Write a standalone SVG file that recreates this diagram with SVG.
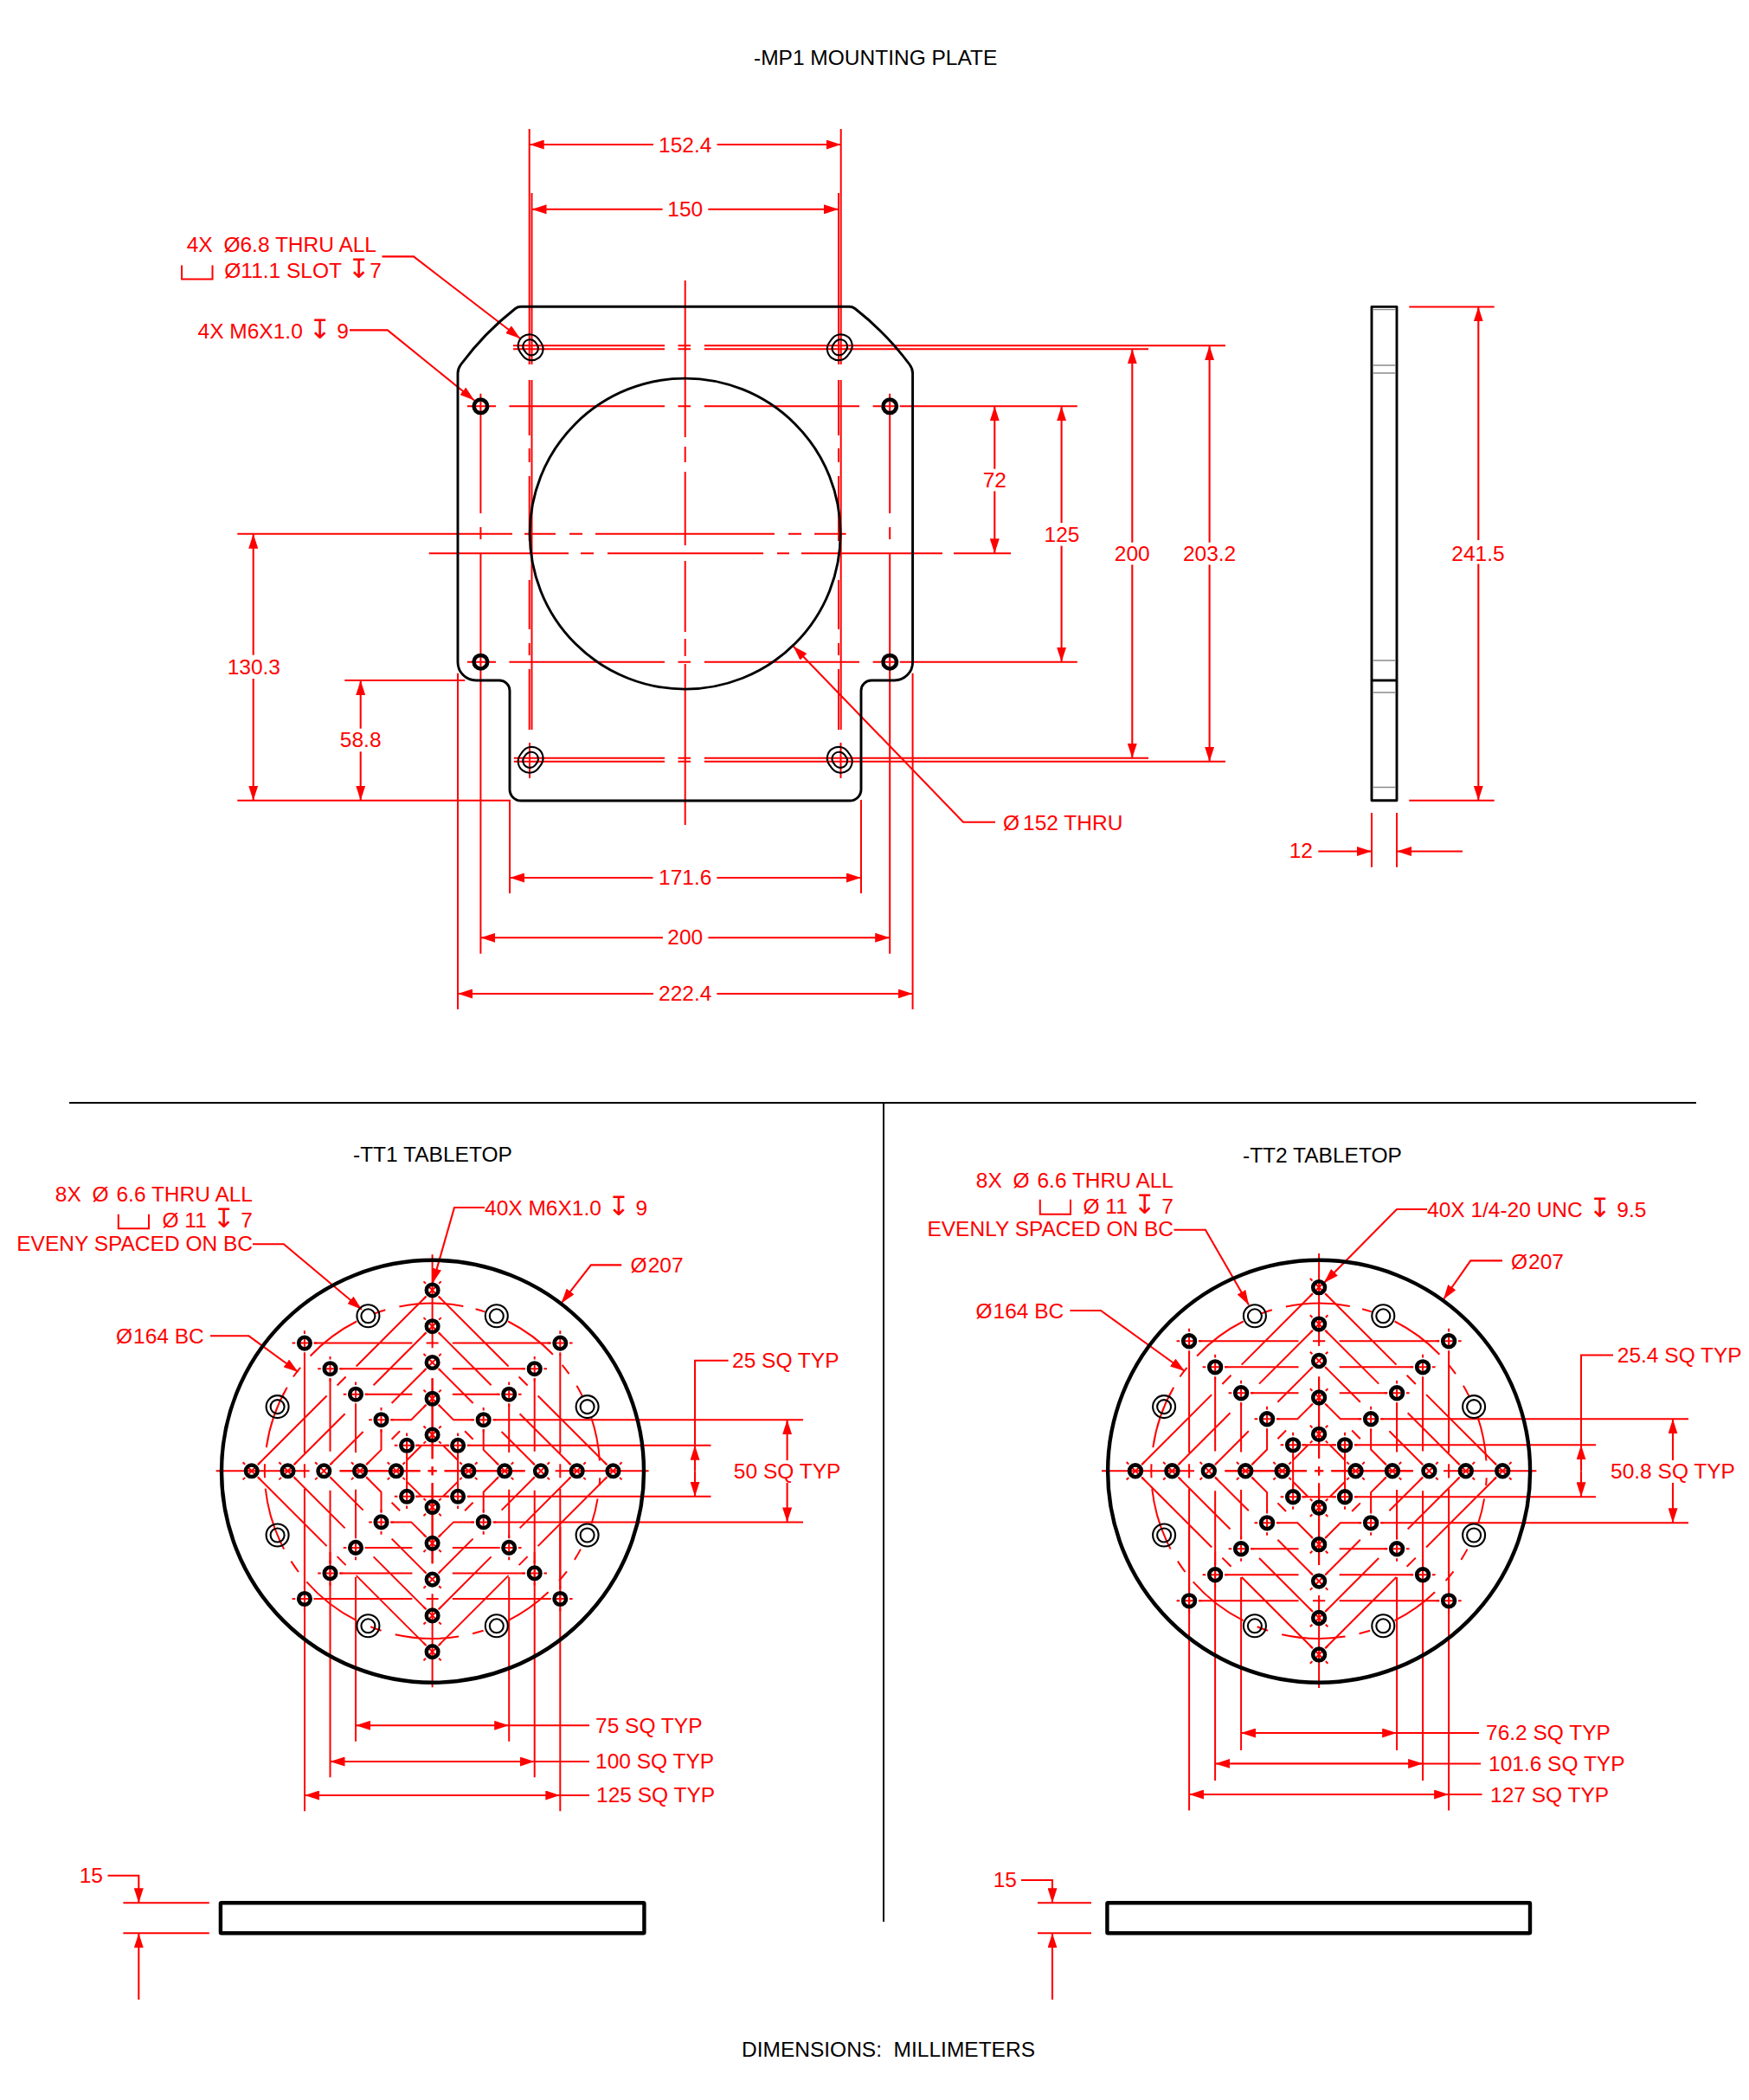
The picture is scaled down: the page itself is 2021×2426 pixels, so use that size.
<svg xmlns="http://www.w3.org/2000/svg" width="2021" height="2426" viewBox="0 0 2021 2426">
<style>
text{font-family:"Liberation Sans","DejaVu Sans",sans-serif;font-size:24.5px;fill:#f00}
text.k{fill:#000}
tspan.d{font-size:31px}
.m{text-anchor:middle}
.e{text-anchor:end}
path,line,circle,rect{fill:none}
.r{stroke:#f00;stroke-width:2}
.a{stroke:#f00;stroke-width:2.1;marker-end:url(#arrow)}
.b{stroke:#000;stroke-width:2.9;stroke-linejoin:round}
.t{stroke:#000;stroke-width:4.4}
.s{stroke:#000;stroke-width:2.1}
.g{stroke:#8a8a8a;stroke-width:1.4}
.h{stroke:#000;stroke-width:4.5}
</style>
<defs>
<marker id="arrow" markerUnits="userSpaceOnUse" markerWidth="17" markerHeight="11" refX="17" refY="5.5" orient="auto"><path d="M0 0L17 5.5L0 11z" style="fill:#f00"/></marker>
<g id="hole"><path class="r" d="M-5 0H5M0-5V5M-14.3 0H-10.7M10.7 0H14.3M0-14.3V-10.7M0 10.7V14.3"/><circle class="h" r="6.8"/></g>
<g id="cb"><circle class="s" r="13"/><circle class="s" r="8"/></g>
<g id="slot"><path class="s" d="M9.1-9.6L11.9-5.8A13 13 0 0 1-9.1 9.6L-11.9 5.8A13 13 0 0 1 9.1-9.6Z"/><path class="s" d="M5-6.6L7.8-2.8A8 8 0 0 1-5 6.6L-7.8 2.8A8 8 0 0 1 5-6.6Z"/></g>
<path id="ql" class="r" d="M-136.8-147.7H-23.2M-7-147.7H0M-107-118.1H-23.2M-77.8-88.6H-23.2M-48-59.1H-24.4L-7-76.5M-19.6-29.5H0M-147.7-135V-20.7M-147.7-8V0M-118.1-106.4V-22.5M-88.6-77.8V-21.4M-59.1-47.5V-24.4L-76.5-7M-29.5-20.7V0M-7-201.8L-88-120.8M-100-108.8L-110-98.8M-122-86.8L-201.8-7M-7-160.1L-68-99.1M-101-66.1L-160.1-7M-7-118.3L-47-78.3M-80-45.3L-118.3-7M-37.5-46L-47-36.5M-12.3-29.5L-29.5-12.3M-107 0H-14M-5 0H0M0-107V-14M0-5V0"/>
<g id="qh">
<use href="#hole" x="-147.7" y="-147.7"/><use href="#hole" x="-118.1" y="-118.1"/><use href="#hole" x="-88.6" y="-88.6"/><use href="#hole" x="-59.1" y="-59.1"/><use href="#hole" x="-29.5" y="-29.5"/>
<use href="#hole" transform="translate(0,-41.77) rotate(45)"/><use href="#hole" transform="translate(0,-83.54) rotate(45)"/><use href="#hole" transform="translate(0,-125.31) rotate(45)"/><use href="#hole" transform="translate(0,-167.08) rotate(45)"/><use href="#hole" transform="translate(0,-208.85) rotate(45)"/>
</g>
<g id="pattern">
<use href="#ql"/><use href="#ql" transform="scale(-1,1)"/><use href="#ql" transform="scale(1,-1)"/><use href="#ql" transform="scale(-1,-1)"/>
<use href="#qh"/><use href="#qh" transform="rotate(90)"/><use href="#qh" transform="rotate(180)"/><use href="#qh" transform="rotate(270)"/>
</g>
<g id="bc">
<path class="r" d="M-38.2-189.8A193.7 193.7 0 0 1 35.7-190.4M50-187A193.7 193.7 0 0 1 60.7-183.9M87.5-172.8A193.7 193.7 0 0 1 139.3-134.6M150-122.5A193.7 193.7 0 0 1 157.9-112.2M166.8-98.5A193.7 193.7 0 0 1 173.2-86.7M183.2-62.9A193.7 193.7 0 0 1 193.3-11.8M193.6 8A193.7 193.7 0 0 1 193 16.8M191 32A193.7 193.7 0 0 1 184 60.6M171.4 90.3A193.7 193.7 0 0 1 164.3 102.6M155.4 116A193.7 193.7 0 0 1 146.4 126.8M134 139.9A193.7 193.7 0 0 1 87.5 172.8M59 184.5A193.7 193.7 0 0 1 46.4 188M30.4 191.3A193.7 193.7 0 0 1-42.9 188.9M-59 184.5A193.7 193.7 0 0 1-71.4 180M-87.5 172.8A193.7 193.7 0 0 1-145.4 128M-154.6 116.7A193.7 193.7 0 0 1-163.2 104.3M-171.4 90.3A193.7 193.7 0 0 1-192.9 20.4M-193.6 8A193.7 193.7 0 0 1-193.6-8M-191.8-27.1A193.7 193.7 0 0 1-167.9-96.6M-160.7-108.8A193.7 193.7 0 0 1-152.5-119.4M-141-132.8A193.7 193.7 0 0 1-87.5-172.8M-67.9-181.4A193.7 193.7 0 0 1-54.3-186"/>
<use href="#cb" x="-74.2" y="-179"/><use href="#cb" x="74.2" y="-179"/><use href="#cb" x="-179" y="-74.2"/><use href="#cb" x="179" y="-74.2"/><use href="#cb" x="-179" y="74.2"/><use href="#cb" x="179" y="74.2"/><use href="#cb" x="-74.2" y="179"/><use href="#cb" x="74.2" y="179"/>
</g>
</defs>

<g id="titles">
<text class="k" x="871" y="75">-MP1 MOUNTING PLATE</text>
<text class="k" x="408" y="1342">-TT1 TABLETOP</text>
<text class="k" x="1436" y="1343">-TT2 TABLETOP</text>
<text class="k" x="857" y="2375.5">DIMENSIONS:&#160; MILLIMETERS</text>
</g>
<g id="dividers"><path d="M80 1274H1960M1021 1274V2220" style="stroke:#000;stroke-width:2"/></g>

<g id="mp1-connectors">
<path class="r" d="M611.7 149V421M611.7 439V503M611.7 518V534M611.7 550V625M611.7 670V727M611.7 743V757M611.7 773V843M612 858V899M614.5 223V421M614.5 439V843"/>
<path class="r" d="M971.7 149V421M971.7 439V843M971.5 858V899M969 223V421M969 439V503M969 518V534M969 550V625M969 670V727M969 743V757M969 773V843"/>
<path class="r" d="M791.7 324V505M791.7 516V534M791.7 545V630M791.7 648V730M791.7 738V758M791.7 767V953"/>
<path class="r" d="M593 399.3H768M783.5 399.3H798M813.8 399.3H1416M593 403.3H768M783.5 403.3H798M813.8 403.3H1327M593.8 875.8H768M783.5 875.8H798M813.8 875.8H1327M593.8 879.7H768M783.5 879.7H798M813.8 879.7H1416"/>
<path class="r" d="M540 469.3H548M564 469.3H573M588.4 469.3H768M783.5 469.3H798M813.8 469.3H993M1008.6 469.3H1018M1039.7 469.3H1244.8M540 764.7H548M564 764.7H573M588.4 764.7H768M783.5 764.7H798M813.8 764.7H993M1008.6 764.7H1018M1039.7 764.7H1244.8"/>
<path class="r" d="M555.4 454.7V460M555.4 478V593M555.4 609V623M555.4 640V755M555.4 774V1101.7M1028.2 454.7V460M1028.2 478V593M1028.2 609V623M1028.2 640V755M1028.2 774V1101.7"/>
<path class="r" d="M550 469.3H561M1022 469.3H1034M550 764.7H561M1022 764.7H1034M555.4 464V475M1028.2 464V475M555.4 759V770M1028.2 759V770"/>
<path class="r" d="M274.3 616.7H592M606 616.7H642M658 616.7H673M688 616.7H895M911 616.7H926M941 616.7H977.6M495.7 639.3H657M671 639.3H686M702 639.3H882M898 639.3H912M926 639.3H1089M1102 639.3H1168"/>
<path class="r" d="M274.3 924.7H589V1032M995 924V1032M398.3 786H537.3M529 777.7V1166M1054.6 777.7V1166M1628.3 354.4H1726.7M1628.3 924.7H1726.7M1585 939V1001.8M1614 939V1001.8"/>
<path class="a" d="M755 167H611.7"/><path class="a" d="M828.6 167H971.7"/>
<path class="a" d="M765.6 241.8H614.5"/><path class="a" d="M818.3 241.8H969"/>
<path class="a" d="M754.5 1014H589"/><path class="a" d="M828.4 1014H995"/>
<path class="a" d="M766 1083.3H555.4"/><path class="a" d="M818.4 1083.3H1028.2"/>
<path class="a" d="M755 1148H529"/><path class="a" d="M828.4 1148H1054.6"/>
<path class="a" d="M292.7 756.7V616.7"/><path class="a" d="M292.7 784V924.7"/>
<path class="a" d="M416.7 841.7V786"/><path class="a" d="M416.7 868.3V924.7"/>
<path class="a" d="M1149.3 541.7V469.3"/><path class="a" d="M1149.3 567.4V639.3"/>
<path class="a" d="M1226.6 604V469.3"/><path class="a" d="M1226.6 630.6V764.7"/>
<path class="a" d="M1308.3 626.7V403.3"/><path class="a" d="M1308.3 652.4V875.8"/>
<path class="a" d="M1397.6 626.7V399.3"/><path class="a" d="M1397.6 652.4V879.7"/>
<path class="a" d="M1708.3 624V354.4"/><path class="a" d="M1708.3 651.5V924.7"/>
<path class="a" d="M1523.3 983.5H1585"/><path class="a" d="M1690 983.5H1614"/>
<path class="a" d="M441.5 296.4H478L601 391"/>
<path class="a" d="M404 381.4H447.8L548 462.5"/>
<path class="a" d="M1150 949.7H1113L916.6 746.5"/>
</g>

<g id="mp1-plate">
<path class="b" d="M602 354.3H981.4Q985 354.3 988 356.5A340 340 0 0 1 1051 421Q1054.6 426 1054.6 431V765A21 21 0 0 1 1033.6 786H1007A12 12 0 0 0 995 798V912A13 13 0 0 1 982 925H602A13 13 0 0 1 589 912V798A12 12 0 0 0 577 786H550A21 21 0 0 1 529 765V431Q529 426 532.6 421A340 340 0 0 1 595.4 356.5Q598.4 354.3 602 354.3Z"/>
<circle class="b" cx="791.7" cy="616.6" r="179.5"/>
<circle class="h" cx="555.4" cy="469.3" r="7.8"/><circle class="h" cx="1028.2" cy="469.3" r="7.8"/><circle class="h" cx="555.4" cy="764.7" r="7.8"/><circle class="h" cx="1028.2" cy="764.7" r="7.8"/>
<use href="#slot" transform="translate(613.1,401.3)"/><use href="#slot" transform="translate(970.3,401.3) scale(-1,1)"/><use href="#slot" transform="translate(613.1,877.8) scale(1,-1)"/><use href="#slot" transform="translate(970.3,877.8) scale(-1,-1)"/>
</g>

<g id="mp1-side">
<rect class="b" x="1585" y="354.4" width="29" height="570.3"/>
<path class="g" d="M1586 357.6H1613M1586 422H1613M1586 431H1613M1586 763H1613M1586 800H1613M1586 909.5H1613"/>
<path class="b" d="M1585 786H1614"/>
</g>

<g id="mp1-labels">
<text class="m" x="791.7" y="175.5">152.4</text>
<text class="m" x="791.7" y="250">150</text>
<text class="e" x="435" y="291">4X <tspan dx="6">Ø</tspan>6.8 THRU ALL</text>
<path class="r" d="M210 306.4V322.5H245.5V306.4"/>
<text class="e" x="441" y="321.4">Ø11.1 SLOT <tspan class="d">↧</tspan>7</text>
<text class="e" x="403" y="391">4X M6X1.0 <tspan class="d">↧</tspan> 9</text>
<text x="1159" y="959">Ø<tspan dx="4">152 THRU</tspan></text>
<text class="m" x="791.7" y="1022">171.6</text>
<text class="m" x="791.7" y="1091">200</text>
<text class="m" x="791.7" y="1156">222.4</text>
<text class="m" x="293.3" y="779">130.3</text>
<text class="m" x="416.7" y="863.3">58.8</text>
<text class="m" x="1149.3" y="563.4">72</text>
<text class="m" x="1227" y="625.5">125</text>
<text class="m" x="1308.3" y="648">200</text>
<text class="m" x="1397.6" y="648">203.2</text>
<text class="m" x="1708" y="648">241.5</text>
<text class="e" x="1517" y="991">12</text>
</g>

<g id="tt1-connectors">
<path class="r" d="M249.6 1699.3H357.6M641.6 1699.3H749.6M499.6 1449.3V1557.3M499.6 1841.3V1949.3"/>
<path class="r" d="M352 1764V2092.3M647.3 1764V2092.3M381.5 1793V2053.3M617.7 1793V2053.3M411 1822V2011.7M588.2 1822V2011.7"/>
<path class="r" d="M571 1640.2H928M571 1758.4H928M540.6 1669.8H821.5M540.6 1728.8H821.5"/>
<path class="a" d="M430 1993.3H411"/><path class="a" d="M430 1993.3H588.2"/><path class="r" d="M588.2 1993.3H681"/>
<path class="a" d="M400 2035H381.5"/><path class="a" d="M400 2035H617.7"/><path class="r" d="M617.7 2035H681"/>
<path class="a" d="M370 2074H352"/><path class="a" d="M370 2074H647.3"/><path class="r" d="M647.3 2074H681"/>
<path class="r" d="M841.6 1571.7H803V1669.8"/>
<path class="a" d="M803 1699.3V1669.8"/><path class="a" d="M803 1699.3V1728.8"/>
<path class="a" d="M909.6 1687V1640.2"/><path class="a" d="M909.6 1713V1758.4"/>
<path class="a" d="M292 1437.3H327.9L417.9 1512.7"/>
<path class="a" d="M242.9 1543.3H287.5L344.5 1585"/>
<path class="a" d="M560 1395H525L500 1482.3"/>
<path class="a" d="M718.2 1461.4H682.9L648.6 1505.4"/>
<path class="r" d="M142.4 2198.3H241.8M142.4 2233.3H241.8"/>
<path class="a" d="M124.5 2166.7H160.3V2198.3"/><path class="a" d="M160.3 2310V2233.3"/>
</g>
<g id="tt1">
<use href="#bc" x="499.6" y="1699.3"/>
<use href="#pattern" transform="translate(499.6,1699.3)"/>
<circle class="t" cx="500" cy="1699.8" r="244"/>
<rect class="t" x="254.9" y="2198.3" width="489.5" height="35" rx="1"/>
</g>
<g id="tt1-labels">
<text class="e" x="292" y="1388.3">8X <tspan dx="6">Ø</tspan> <tspan dx="2">6.6</tspan> THRU ALL</text>
<path class="r" d="M136.8 1402.7V1419.3H172V1402.7"/>
<text class="e" x="292" y="1418.3">Ø 11 <tspan class="d">↧</tspan> 7</text>
<text class="e" x="292" y="1445">EVENY SPACED ON BC</text>
<text x="134" y="1551.7">Ø<tspan dx="1">164 BC</tspan></text>
<text x="560" y="1403.7">40X M6X1.0 <tspan class="d">↧</tspan> 9</text>
<text x="728.6" y="1469.6">Ø<tspan dx="1">207</tspan></text>
<text x="846" y="1580">25 SQ TYP</text>
<text class="m" x="909.6" y="1708">50 SQ TYP</text>
<text x="688" y="2001.7">75 SQ TYP</text>
<text x="688" y="2043.3">100 SQ TYP</text>
<text x="689" y="2082.3">125 SQ TYP</text>
<text class="e" x="119" y="2175">15</text>
</g>

<g id="tt2-connectors">
<path class="r" d="M1273 1699.3H1380M1668 1699.3H1775.4M1524.1 1448V1555M1524.1 1843V1950"/>
<path class="r" d="M1374.1 1764V2091.6M1674.1 1764V2091.6M1404.1 1793V2057M1644.1 1793V2057M1434.1 1822V2022M1614.1 1822V2022"/>
<path class="r" d="M1596 1639.3H1951M1596 1759.3H1951M1565 1669.3H1844M1565 1729.3H1844"/>
<path class="a" d="M1454 2002H1434.1"/><path class="a" d="M1454 2002H1614.1"/><path class="r" d="M1614.1 2002H1709"/>
<path class="a" d="M1424 2037.4H1404.1"/><path class="a" d="M1424 2037.4H1644.1"/><path class="r" d="M1644.1 2037.4H1711"/>
<path class="a" d="M1394 2073H1374.1"/><path class="a" d="M1394 2073H1674.1"/><path class="r" d="M1674.1 2073H1712.5"/>
<path class="r" d="M1864 1565.5H1827V1669.3"/>
<path class="a" d="M1827 1699.3V1669.3"/><path class="a" d="M1827 1699.3V1729.3"/>
<path class="a" d="M1933 1687V1639.3"/><path class="a" d="M1933 1713V1759.3"/>
<path class="a" d="M1356.4 1420.7H1392.9L1443 1507.5"/>
<path class="a" d="M1236.4 1514H1272L1369 1584"/>
<path class="a" d="M1649 1397H1614L1530 1482"/>
<path class="a" d="M1736 1456.4H1699.3L1668 1501"/>
<path class="r" d="M1199 2198.3H1261M1199 2233.3H1261"/>
<path class="a" d="M1180 2172H1216V2198.3"/><path class="a" d="M1216 2310V2233.3"/>
</g>
<g id="tt2">
<use href="#bc" x="1524.1" y="1699.3"/>
<use href="#pattern" transform="translate(1524.1,1699.3) scale(1.0157)"/>
<circle class="t" cx="1524.1" cy="1699.8" r="244"/>
<rect class="t" x="1279.4" y="2198.3" width="488.6" height="35" rx="1"/>
</g>
<g id="tt2-labels">
<text class="e" x="1356" y="1371.7">8X <tspan dx="6">Ø</tspan> <tspan dx="2">6.6</tspan> THRU ALL</text>
<path class="r" d="M1201.8 1385.7V1402.7H1237V1385.7"/>
<text class="e" x="1356" y="1401.7">Ø 11 <tspan class="d">↧</tspan> 7</text>
<text class="e" x="1356" y="1428.3">EVENLY SPACED ON BC</text>
<text x="1127.5" y="1523.3">Ø<tspan dx="1">164 BC</tspan></text>
<text x="1649" y="1405.5">40X 1/4-20 UNC <tspan class="d">↧</tspan> 9.5</text>
<text x="1746" y="1466">Ø<tspan dx="1">207</tspan></text>
<text x="1868.8" y="1574">25.4 SQ TYP</text>
<text class="m" x="1933" y="1708">50.8 SQ TYP</text>
<text x="1717" y="2010.3">76.2 SQ TYP</text>
<text x="1720" y="2046">101.6 SQ TYP</text>
<text x="1722" y="2081.5">127 SQ TYP</text>
<text class="e" x="1175" y="2180">15</text>
</g>
</svg>
